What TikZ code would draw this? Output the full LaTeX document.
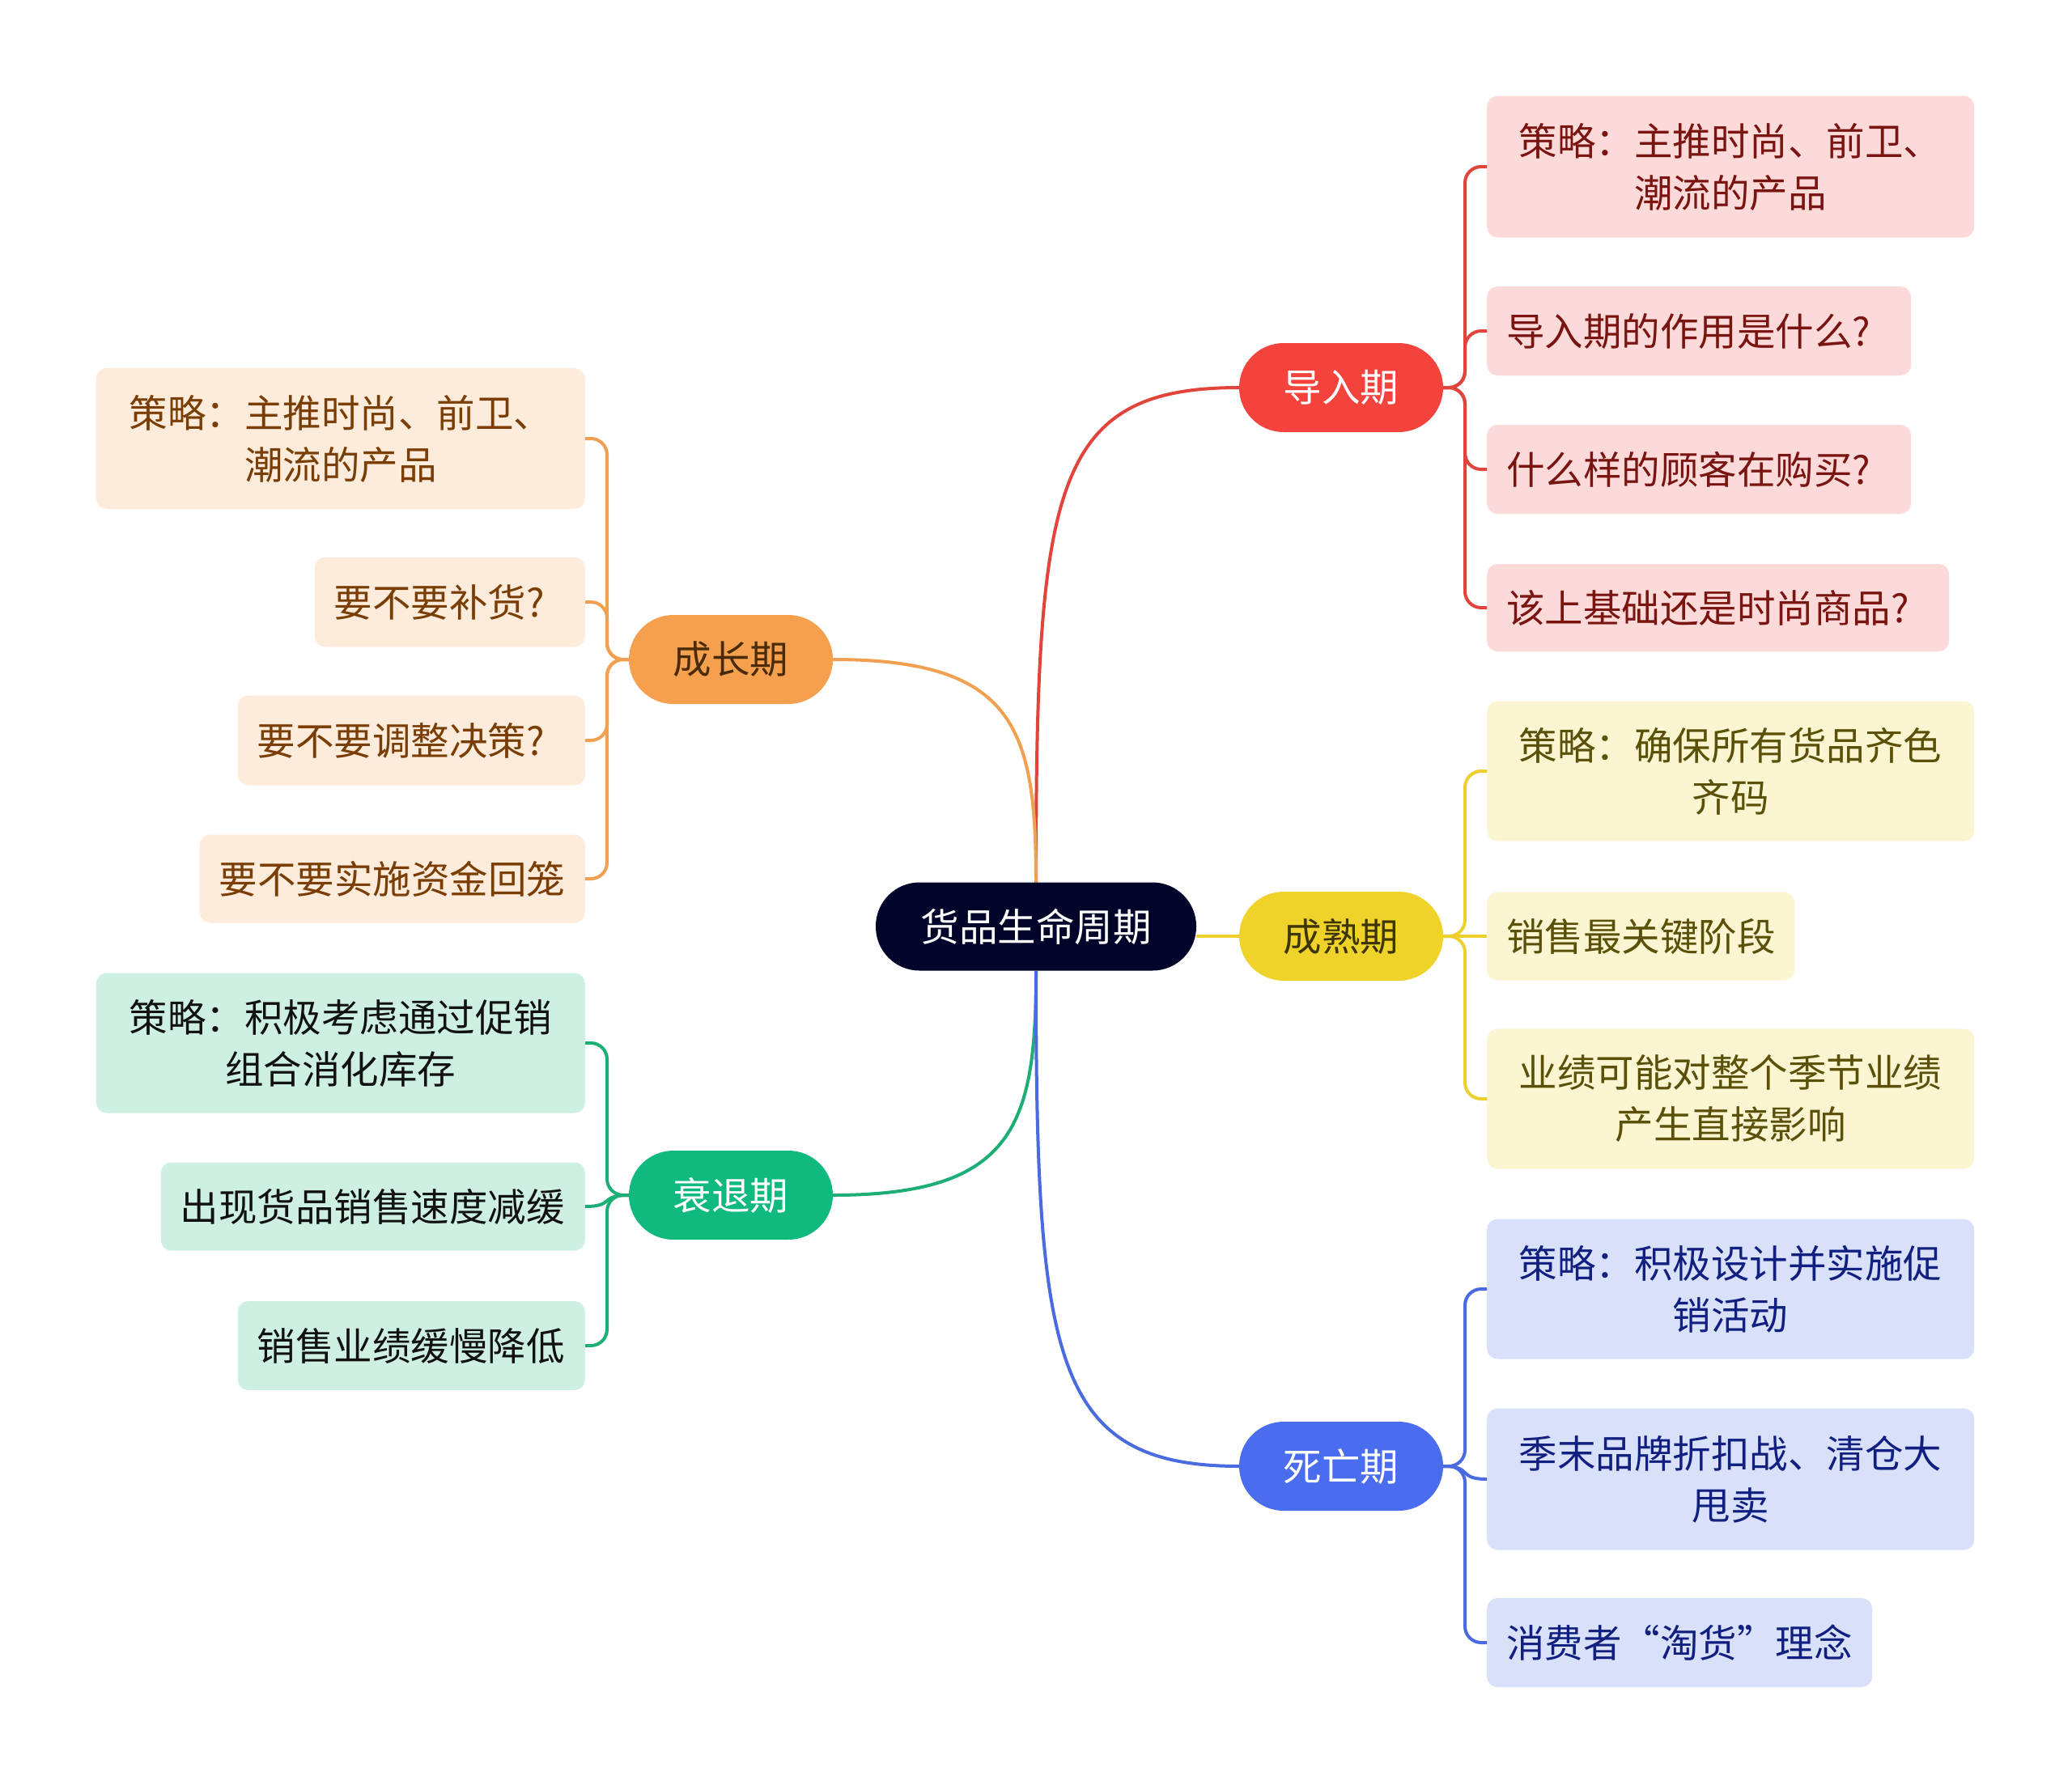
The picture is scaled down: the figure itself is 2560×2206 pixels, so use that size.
\documentclass[tikz,border=0pt]{standalone}
\usepackage{fontspec}
\setmainfont{Noto Sans CJK SC}
\usetikzlibrary{calc}
\definecolor{cnavy}{HTML}{02042A}
\definecolor{cred}{HTML}{F4433C}
\definecolor{credL}{HTML}{FDDADA}
\definecolor{credT}{HTML}{7A1410}
\definecolor{credC}{HTML}{E0443A}
\definecolor{cora}{HTML}{F5A04E}
\definecolor{coraL}{HTML}{FDEBDC}
\definecolor{coraT}{HTML}{7A3E05}
\definecolor{coraN}{HTML}{4A2A08}
\definecolor{coraC}{HTML}{F0A050}
\definecolor{cyel}{HTML}{F0D32A}
\definecolor{cyelL}{HTML}{FBF5D2}
\definecolor{cyelT}{HTML}{5A5008}
\definecolor{cyelN}{HTML}{3D3505}
\definecolor{cyelC}{HTML}{EDD030}
\definecolor{cgrn}{HTML}{10B97C}
\definecolor{cgrnL}{HTML}{CDF0E2}
\definecolor{cgrnT}{HTML}{111111}
\definecolor{cgrnC}{HTML}{1DAE76}
\definecolor{cblu}{HTML}{4A6CEE}
\definecolor{cbluL}{HTML}{D9E1FA}
\definecolor{cbluT}{HTML}{101F80}
\definecolor{cbluC}{HTML}{4A6BE0}
\begin{document}
\begin{tikzpicture}[x=1pt,y=-1pt,
  txt/.style={font=\fontsize{47.5}{64}\selectfont},
  root/.style={txt, fill=cnavy, text=white, rounded corners=54, minimum width=396, minimum height=109, inner sep=0},
  mainnode/.style={txt, rounded corners=55, minimum width=252, minimum height=110, inner sep=0},
  leaf/.style={txt, rounded corners=13, inner sep=0, align=center},
  oneline/.style={txt, rounded corners=13, inner ysep=0, inner xsep=24, align=left, text width=#1},
  conn/.style={line width=4, rounded corners=20}
]
\useasboundingbox[fill=white] (0,0) rectangle (2560,2206);

% connectors from root
\draw[line width=4, credC] (1280,1091) .. controls (1280,600) and (1300,479) .. (1531,479);
\draw[line width=4, coraC] (1280,1091) .. controls (1280,900) and (1254,815) .. (1029,815);
\draw[line width=4, cgrnC] (1280,1200) .. controls (1280,1390) and (1254,1477) .. (1029,1477);
\draw[line width=4, cbluC] (1280,1200) .. controls (1280,1680) and (1300,1812) .. (1531,1812);
\draw[line width=4, cyelC] (1478,1157) -- (1531,1157);

% root and main nodes
\node[root] (c) at (1280,1145) {货品生命周期};
\node[mainnode, fill=cred, text=white] (r) at (1657,479) {导入期};
\node[mainnode, fill=cyel, text=cyelN] (y) at (1657,1157) {成熟期};
\node[mainnode, fill=cblu, text=white] (b) at (1657,1812) {死亡期};
\node[mainnode, fill=cora, text=coraN] (o) at (903,815) {成长期};
\node[mainnode, fill=cgrn, text=white] (g) at (903,1477) {衰退期};

% right leaves
\begin{scope}[every node/.append style={anchor=west}]
\node[leaf, fill=credL, text=credT, minimum width=602, minimum height=175] (r1) at (1837,206) {策略：主推时尚、前卫、\\潮流的产品};
\node[oneline=476, fill=credL, text=credT, minimum height=110] (r2) at (1837,409) {\mbox{导入期的作用是什么?}};
\node[oneline=476, fill=credL, text=credT, minimum height=110] (r3) at (1837,580) {\mbox{什么样的顾客在购买?}};
\node[oneline=523, fill=credL, text=credT, minimum height=108] (r4) at (1837,751) {\mbox{该上基础还是时尚商品?}};
\node[leaf, fill=cyelL, text=cyelT, minimum width=602, minimum height=173] (y1) at (1837,953) {策略：确保所有货品齐色\\齐码};
\node[oneline=332, fill=cyelL, text=cyelT, minimum height=109] (y2) at (1837,1157) {\mbox{销售最关键阶段}};
\node[leaf, fill=cyelL, text=cyelT, minimum width=602, minimum height=173] (y3) at (1837,1358) {业绩可能对整个季节业绩\\产生直接影响};
\node[leaf, fill=cbluL, text=cbluT, minimum width=602, minimum height=173] (b1) at (1837,1593) {策略：积极设计并实施促\\销活动};
\node[leaf, fill=cbluL, text=cbluT, minimum width=602, minimum height=175] (b2) at (1837,1828) {季末品牌折扣战、清仓大\\甩卖};
\node[oneline=428, fill=cbluL, text=cbluT, minimum height=110] (b3) at (1837,2030) {\mbox{消费者“淘货”理念}};
\end{scope}

% left leaves
\begin{scope}[every node/.append style={anchor=east}]
\node[leaf, fill=coraL, text=coraT, minimum width=604, minimum height=174] (o1) at (723,542) {策略：主推时尚、前卫、\\潮流的产品};
\node[oneline=286, fill=coraL, text=coraT, minimum height=111] (o2) at (723,744) {\mbox{要不要补货?}};
\node[oneline=381, fill=coraL, text=coraT, minimum height=111] (o3) at (723,915) {\mbox{要不要调整决策?}};
\node[oneline=428, fill=coraL, text=coraT, minimum height=109] (o4) at (723,1086) {\mbox{要不要实施资金回笼}};
\node[leaf, fill=cgrnL, text=cgrnT, minimum width=604, minimum height=173] (g1) at (723,1289) {策略：积极考虑通过促销\\组合消化库存};
\node[oneline=476, fill=cgrnL, text=cgrnT, minimum height=109] (g2) at (723,1491) {\mbox{出现货品销售速度减缓}};
\node[oneline=381, fill=cgrnL, text=cgrnT, minimum height=110] (g3) at (723,1663) {\mbox{销售业绩缓慢降低}};
\end{scope}

% branch connectors right
\foreach \l in {r1,r2,r3,r4} \draw[conn, credC] (r.east) -| ($(\l.west)+(-27,0)$) -- (\l.west);
\foreach \l in {y1,y3} \draw[conn, cyelC] (y.east) -| ($(\l.west)+(-27,0)$) -- (\l.west);
\draw[line width=4, cyelC] (y.east) -- (y2.west);
\foreach \l in {b1,b3} \draw[conn, cbluC] (b.east) -| ($(\l.west)+(-27,0)$) -- (\l.west);
\draw[line width=4, cbluC] (b.east) .. controls (1820,1812) and (1800,1828) .. (b2.west);

% branch connectors left
\foreach \l in {o1,o2,o3,o4} \draw[conn, coraC] (o.west) -| ($(\l.east)+(27,0)$) -- (\l.east);
\foreach \l in {g1,g3} \draw[conn, cgrnC] (g.west) -| ($(\l.east)+(27,0)$) -- (\l.east);
\draw[line width=4, cgrnC] (g.west) .. controls (740,1477) and (760,1491) .. (g2.east);
\end{tikzpicture}
\end{document}
